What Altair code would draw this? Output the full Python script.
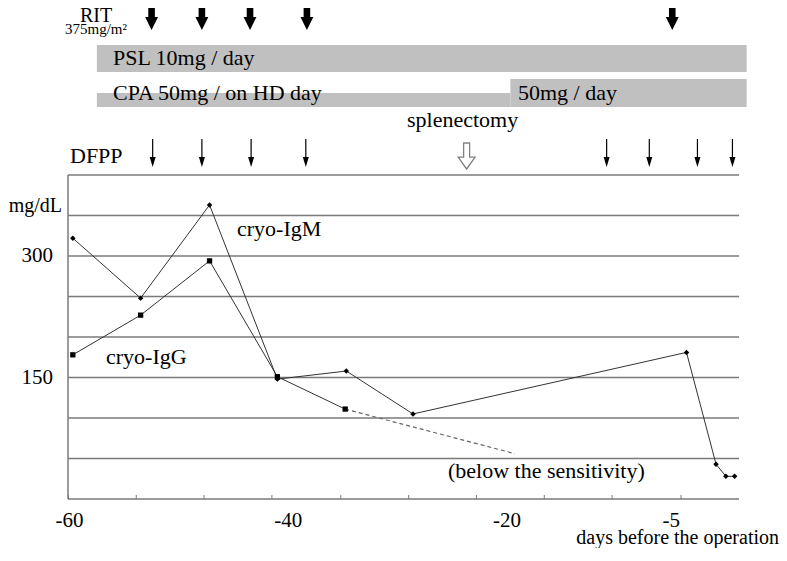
import altair as alt
import pandas as pd

FONT = "Liberation Serif"
W, H = 671, 491

# ---------------- data ----------------
igm_day = [-59.7, -53.5, -47.2, -41.0, -34.7, -28.6, -3.6, -0.9, 0.0, 0.8]
igm_val = [322, 248, 363, 148, 158, 105, 181, 43, 28, 28]
igg_day = [-59.7, -53.5, -47.2, -41.0, -34.8]
igg_val = [178, 227, 294, 151, 111]
igg_below_day = [-34.8, -19.3]
igg_below_val = [111, 56]
rit_day = [-52.5, -47.9, -43.5, -38.3, -4.9]
dfpp_day = [-52.4, -47.9, -43.4, -38.4, -10.9, -7.0, -2.6, 0.6]
splenectomy_day = [-23.7]
psl_period = [-57.5, 1.9]
cpa_hd_period = [-57.5, -19.7]
cpa_daily_period = [-19.7, 1.9]
grid_levels = [50, 100, 150, 200, 250, 300, 350, 400]
y_tick_values = [150, 300]
x_tick_values = [-60, -40, -20, -5]
x_minor_ticks = [-60.1, -53.9, -47.7, -41.5, -35.2, -29.0, -22.8, -16.6, -10.4, -4.1]

Y_MAX = 606.2
xs = alt.Scale(domain=[-60.14, 1.2], nice=False, zero=False)
ys = alt.Scale(domain=[0, Y_MAX], nice=False)


def ypx(v):
    return H * (1 - v / Y_MAX)


GRID = "#7a7a7a"
BAR = "#c0c0c0"

layers = []

# horizontal grid / frame lines
layers.append(
    alt.Chart(pd.DataFrame({"v": grid_levels}))
    .mark_rule(color=GRID, strokeWidth=1.5)
    .encode(y=alt.Y("v:Q", scale=ys, axis=None), x=alt.value(0), x2=alt.value(W))
)
# left frame and bottom axis line
layers.append(
    alt.Chart(pd.DataFrame({"a": [0]}))
    .mark_rule(color=GRID, strokeWidth=1.5)
    .encode(x=alt.value(0), y=alt.value(ypx(400)), y2=alt.value(H))
)
layers.append(
    alt.Chart(pd.DataFrame({"a": [0]}))
    .mark_rule(color=GRID, strokeWidth=1.5)
    .encode(x=alt.value(0), x2=alt.value(W), y=alt.value(H))
)
# minor tick marks on x axis
layers.append(
    alt.Chart(pd.DataFrame({"d": x_minor_ticks}))
    .mark_rule(color=GRID, strokeWidth=1)
    .encode(x=alt.X("d:Q", scale=xs, axis=None), y=alt.value(H - 4), y2=alt.value(H))
)
# axis tick labels (through the scales)
layers.append(
    alt.Chart(pd.DataFrame({"d": x_tick_values, "lab": [str(v) for v in x_tick_values]}))
    .mark_text(font=FONT, fontSize=21, color="black", align="center", baseline="alphabetic")
    .encode(x=alt.X("d:Q", scale=xs, axis=None), y=alt.value(519), text="lab:N")
)
layers.append(
    alt.Chart(pd.DataFrame({"v": y_tick_values, "lab": [str(v) for v in y_tick_values]}))
    .mark_text(font=FONT, fontSize=21, color="black", align="right", baseline="middle")
    .encode(y=alt.Y("v:Q", scale=ys, axis=None), x=alt.value(-15), text="lab:N")
)

# treatment bars
def bar(period, y0, y1):
    return (
        alt.Chart(pd.DataFrame({"s": [period[0]], "e": [period[1]]}))
        .mark_rect(color=BAR)
        .encode(x=alt.X("s:Q", scale=xs, axis=None), x2="e:Q", y=alt.value(y0), y2=alt.value(y1))
    )

layers.append(bar(psl_period, 37, 64))
layers.append(bar(cpa_hd_period, 85, 99))
layers.append(bar(cpa_daily_period, 71, 99))

# RIT thick arrows
RIT_PATH = "M -0.22 -1 L 0.22 -1 L 0.22 0.13 L 0.43 0.13 L 0 1 L -0.43 0.13 L -0.22 0.13 Z"
layers.append(
    alt.Chart(pd.DataFrame({"d": rit_day}))
    .mark_point(shape=RIT_PATH, filled=True, color="black", size=900, opacity=1, strokeWidth=0)
    .encode(x=alt.X("d:Q", scale=xs, axis=None), y=alt.value(7))
)
# DFPP thin arrows
layers.append(
    alt.Chart(pd.DataFrame({"d": dfpp_day}))
    .mark_rule(color="black", strokeWidth=1.2)
    .encode(x=alt.X("d:Q", scale=xs, axis=None), y=alt.value(131), y2=alt.value(150))
)
layers.append(
    alt.Chart(pd.DataFrame({"d": dfpp_day}))
    .mark_point(shape="M -0.6 -1 L 0.6 -1 L 0 1 Z", filled=True, color="black", size=100,
                opacity=1, strokeWidth=0)
    .encode(x=alt.X("d:Q", scale=xs, axis=None), y=alt.value(154))
)
# splenectomy hollow arrow
HOLLOW_PATH = "M -0.23 -1 L 0.23 -1 L 0.23 0.08 L 0.65 0.08 L 0 1 L -0.65 0.08 L -0.23 0.08 Z"
layers.append(
    alt.Chart(pd.DataFrame({"d": splenectomy_day}))
    .mark_point(shape=HOLLOW_PATH, filled=False, color="#808080", size=676, strokeWidth=1.3,
                opacity=1)
    .encode(x=alt.X("d:Q", scale=xs, axis=None), y=alt.value(148))
)

# data series
igm_df = pd.DataFrame({"day": igm_day, "val": igm_val})
igg_df = pd.DataFrame({"day": igg_day, "val": igg_val})
below_df = pd.DataFrame({"day": igg_below_day, "val": igg_below_val})

x_plain = alt.X("day:Q", scale=xs, axis=None)
y_plain = alt.Y("val:Q", scale=ys, axis=None)

layers.append(
    alt.Chart(below_df).mark_line(color="#666666", strokeWidth=1.2, strokeDash=[4, 3])
    .encode(x=x_plain, y=y_plain)
)
layers.append(
    alt.Chart(igm_df).mark_line(color="#333333", strokeWidth=1).encode(x=x_plain, y=y_plain)
)
layers.append(
    alt.Chart(igg_df).mark_line(color="#333333", strokeWidth=1).encode(x=x_plain, y=y_plain)
)
layers.append(
    alt.Chart(igm_df).mark_point(shape="diamond", filled=True, color="black", size=30, opacity=1)
    .encode(x=x_plain, y=y_plain)
)
layers.append(
    alt.Chart(igg_df).mark_point(shape="square", filled=True, color="black", size=28, opacity=1)
    .encode(x=x_plain, y=y_plain)
)

# text annotations
def label(txt, x, y, size=22, align="left"):
    return (
        alt.Chart(pd.DataFrame({"t": [txt]}))
        .mark_text(text=txt, align=align, baseline="alphabetic", font=FONT, fontSize=size,
                   color="black")
        .encode(x=alt.value(x), y=alt.value(y))
    )

layers += [
    label("RIT", 28, 14, 20, "center"),
    label("375mg/m²", 28, 26, 15, "center"),
    label("PSL 10mg / day", 45, 57),
    label("CPA 50mg / on HD day", 45, 92),
    label("50mg / day", 450, 92),
    label("splenectomy", 339, 119),
    label("DFPP", 2, 155),
    label("mg/dL", -6, 204, 20, "right"),
    label("cryo-IgM", 169, 228),
    label("cryo-IgG", 38, 356),
    label("(below the sensitivity)", 380, 470),
    label("days before the operation", 711, 536, 20, "right"),
]

chart = (
    alt.layer(*layers)
    .properties(width=W, height=H, autosize=alt.AutoSizeParams(type="none"),
                padding={"left": 60, "top": 0, "right": 40, "bottom": 49})
    .configure_view(stroke=None)
)

chart.save("out.html", embed_options={"renderer": "svg", "actions": False})
